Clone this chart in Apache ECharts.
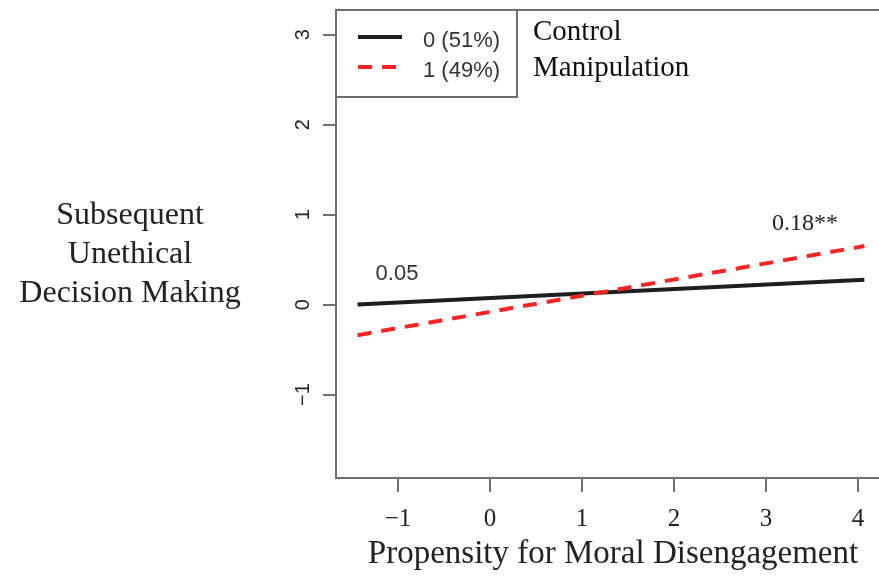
<!DOCTYPE html>
<html>
<head>
<meta charset="utf-8">
<script src="https://cdn.jsdelivr.net/npm/echarts@6/dist/echarts.min.js"></script>
<style>
  html, body { margin: 0; padding: 0; background: #ffffff; overflow: hidden; }
  /* plot frame continues past the right edge of the window */
  #chart { width: 897px; height: 576px; }
</style>
</head>
<body>
<div id="chart"></div>
<script>
// Axis ticks
const xTicks = [-1, 0, 1, 2, 3, 4];
const yTicks = [-1, 0, 1, 2, 3];

// Simple-slope lines: x at both ends, predicted y per group
const xRange = [-1.44, 4.07];
const controlValues = [0.00, 0.275];
const manipulationValues = [-0.34, 0.65];

// Legend and annotation text
const groupLabels = ['0 (51%)', '1 (49%)'];
const groupNames = ['Control', 'Manipulation'];
const slopeLabels = ['0.05', '0.18**'];

const SERIF = '"Liberation Serif", "Times New Roman", serif';
const SANS = '"Liberation Sans", Arial, sans-serif';
const AXIS_GRAY = '#6e6e6e';

const minusFmt = v => (v < 0 ? '\u2212' + Math.abs(v) : String(v));
const toPairs = (xs, ys) => xs.map((x, i) => [x, ys[i]]);

const chart = echarts.init(document.getElementById('chart'), null, { renderer: 'canvas' });

chart.setOption({
  animation: false,
  backgroundColor: '#ffffff',
  grid: {
    left: 336, top: 10, right: 1, bottom: 98,
    show: true, borderColor: AXIS_GRAY, borderWidth: 2, backgroundColor: 'transparent'
  },
  xAxis: {
    type: 'value', min: -1.674, max: 4.414,
    splitLine: { show: false },
    axisLine: { show: true, onZero: false, lineStyle: { color: AXIS_GRAY, width: 2 } },
    axisTick: { show: true, customValues: xTicks, length: 14, lineStyle: { color: AXIS_GRAY, width: 2 } },
    axisLabel: {
      customValues: xTicks, formatter: minusFmt, margin: 29,
      fontFamily: SERIF, fontSize: 25, color: '#222'
    }
  },
  yAxis: {
    type: 'value', min: -1.927, max: 3.273,
    splitLine: { show: false },
    axisLine: { show: true, onZero: false, lineStyle: { color: AXIS_GRAY, width: 2 } },
    axisTick: { show: true, customValues: yTicks, length: 13, lineStyle: { color: AXIS_GRAY, width: 2 } },
    axisLabel: {
      customValues: yTicks, formatter: minusFmt, rotate: 90, margin: 23,
      fontFamily: SANS, fontSize: 20, color: '#222'
    }
  },
  series: [
    {
      name: groupNames[0], type: 'line', symbol: 'none',
      data: toPairs(xRange, controlValues),
      lineStyle: { color: '#1e1e1e', width: 4 }
    },
    {
      name: groupNames[1], type: 'line', symbol: 'none',
      data: toPairs(xRange, manipulationValues),
      lineStyle: { color: '#ff2424', width: 4, type: [14, 10] }
    }
  ],
  graphic: [
    // legend box
    { type: 'rect', shape: { x: 336, y: 10, width: 181, height: 87 },
      style: { fill: 'none', stroke: AXIS_GRAY, lineWidth: 2 }, z: 10 },
    { type: 'line', shape: { x1: 358, y1: 37, x2: 402, y2: 37 },
      style: { stroke: '#1e1e1e', lineWidth: 4 }, z: 10 },
    { type: 'line', shape: { x1: 358, y1: 67, x2: 396, y2: 67 },
      style: { stroke: '#ff2424', lineWidth: 4, lineDash: [14, 10] }, z: 10 },
    { type: 'text', x: 423, y: 41, z: 10,
      style: { text: groupLabels[0], font: '22px ' + SANS, fill: '#333', verticalAlign: 'middle' } },
    { type: 'text', x: 423, y: 71, z: 10,
      style: { text: groupLabels[1], font: '22px ' + SANS, fill: '#333', verticalAlign: 'middle' } },
    { type: 'text', x: 533, y: 32, z: 10,
      style: { text: groupNames[0], font: '29px ' + SERIF, fill: '#111', verticalAlign: 'middle' } },
    { type: 'text', x: 533, y: 68, z: 10,
      style: { text: groupNames[1], font: '29px ' + SERIF, fill: '#111', verticalAlign: 'middle' } },
    // slope annotations
    { type: 'text', x: 397, y: 274, z: 10,
      style: { text: slopeLabels[0], font: '22px ' + SANS, fill: '#333', align: 'center', verticalAlign: 'middle' } },
    { type: 'text', x: 805, y: 224, z: 10,
      style: { text: slopeLabels[1], font: '24px ' + SERIF, fill: '#222', align: 'center', verticalAlign: 'middle' } },
    // axis titles
    { type: 'text', x: 130, y: 255, z: 10,
      style: { text: 'Subsequent\nUnethical\nDecision Making', font: '32px ' + SERIF, lineHeight: 39,
               fill: '#222', align: 'center', verticalAlign: 'middle' } },
    { type: 'text', x: 613, y: 554, z: 10,
      style: { text: 'Propensity for Moral Disengagement', font: '33px ' + SERIF,
               fill: '#222', align: 'center', verticalAlign: 'middle' } }
  ]
});
</script>
</body>
</html>
